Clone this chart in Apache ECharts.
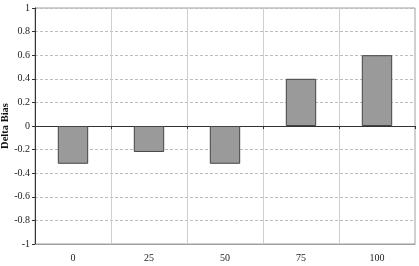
<!DOCTYPE html>
<html><head><meta charset="utf-8">
<script src="https://cdn.jsdelivr.net/npm/echarts@6/dist/echarts.min.js"></script>
<style>html,body{margin:0;padding:0;background:#fff}#c{width:419px;height:266px}</style>
</head><body><div id="c"></div>
<script>
const categories = ['0', '25', '50', '75', '100'];
const deltaBias = [-0.32, -0.22, -0.32, 0.40, 0.60];
const yTicks = { min: -1, max: 1, interval: 0.2 };
const yTitle = 'Delta Bias';

const font = 'Liberation Serif';
const chart = echarts.init(document.getElementById('c'));
chart.setOption({
  animation: false,
  grid: { left: 35, right: 4, top: 8, bottom: 22, show: true, borderColor: '#a0a0a0', borderWidth: 1,
    containLabel: false, outerBoundsMode: 'none' },
  xAxis: [
    { type: 'category', data: categories, position: 'bottom',
      axisLine: { onZero: false, show: true, lineStyle: { color: '#a0a0a0' } },
      axisTick: { show: false },
      axisLabel: { color: '#222', fontFamily: font, fontSize: 10, margin: 9 },
      splitLine: { show: true, lineStyle: { color: '#cfcfcf', width: 1 } } },
    { type: 'category', data: categories, position: 'top',
      axisLine: { onZero: true, show: true, lineStyle: { color: '#333', width: 1 } },
      axisTick: { show: true, inside: true, length: 3, lineStyle: { color: '#333' } },
      axisLabel: { show: false }, splitLine: { show: false } }
  ],
  yAxis: {
    type: 'value', min: yTicks.min, max: yTicks.max, interval: yTicks.interval,
    name: yTitle, nameLocation: 'middle', nameGap: 24, nameMoveOverlap: false,
    nameTextStyle: { fontFamily: font, fontWeight: 'bold', fontSize: 10.5, color: '#111' },
    axisLine: { show: true, lineStyle: { color: '#333' } },
    axisTick: { show: true, length: 3, lineStyle: { color: '#333' } },
    axisLabel: { color: '#222', fontFamily: font, fontSize: 10, margin: 5,
      formatter: v => String(Math.round(v * 10) / 10) },
    splitLine: { show: true, lineStyle: { color: '#bdbdbd', type: [3, 2] } }
  },
  series: [{
    type: 'bar', data: deltaBias, barWidth: '40%', xAxisIndex: 0,
    itemStyle: { color: '#9a9a9a', borderColor: '#444', borderWidth: 1 }
  }]
});
</script></body></html>
